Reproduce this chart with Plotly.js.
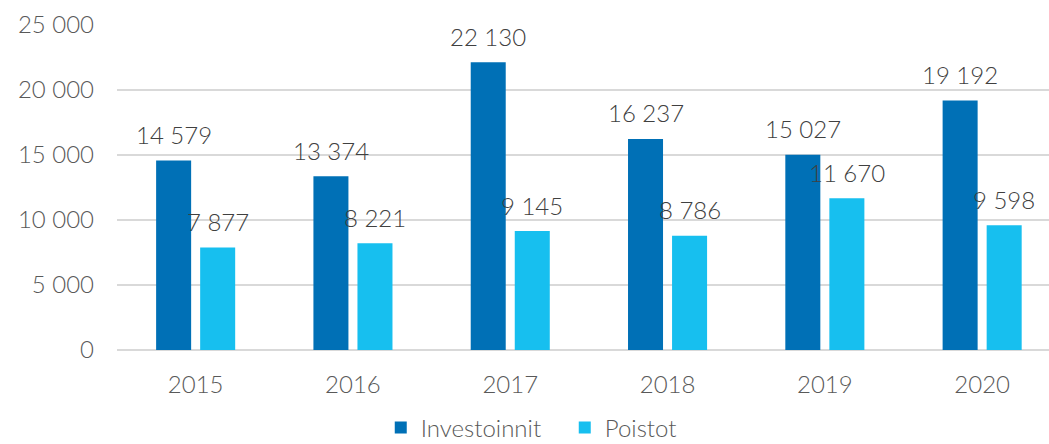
<!DOCTYPE html>
<html>
<head>
<meta charset="utf-8">
<script src="https://cdn.plot.ly/plotly-3.0.1.min.js"></script>
<style>html,body{margin:0;padding:0;background:#fff;}#chart{width:1049px;height:444px;}</style>
</head>
<body>
<div id="chart"></div>
<script>
const years = ['2015', '2016', '2017', '2018', '2019', '2020'];
const investoinnit = [14579, 13374, 22130, 16237, 15027, 19192];
const poistot = [7877, 8221, 9145, 8786, 11670, 9598];
const seriesNames = ['Investoinnit', 'Poistot'];
const colors = ['#0070B6', '#17BFEF'];

function fmt(v) {
  return String(v).replace(/\B(?=(\d{3})+(?!\d))/g, ' ');
}

const FONT = 'Lato, "Open Sans", sans-serif';
const W = 300;

const traces = [investoinnit, poistot].map((vals, i) => ({
  type: 'bar',
  name: seriesNames[i],
  x: years,
  y: vals,
  marker: {color: colors[i], line: {width: 0}},
  hoverinfo: 'skip'
}));

const groupW = 1 - 0.44;
const slot = groupW / 2;
const offsets = [-slot / 2, slot / 2];

const annotations = [];
[investoinnit, poistot].forEach((vals, i) => {
  vals.forEach((v, j) => {
    annotations.push({
      x: j + offsets[i],
      y: v,
      xref: 'x', yref: 'y',
      text: fmt(v),
      showarrow: false,
      yanchor: 'middle',
      yshift: 26,
      font: {family: FONT, size: 24, weight: W, color: '#404040'}
    });
  });
});

const layout = {
  width: 1049,
  height: 444,
  margin: {l: 117, r: 0, t: 25, b: 94, autoexpand: false},
  paper_bgcolor: '#ffffff',
  plot_bgcolor: '#ffffff',
  separators: ', ',
  barmode: 'group',
  bargap: 0.44,
  bargroupgap: 0.205,
  showlegend: true,
  legend: {
    orientation: 'h',
    x: 0.283, xanchor: 'left',
    yref: 'container',
    y: 0.036, yanchor: 'middle',
    entrywidth: 139,
    entrywidthmode: 'pixels',
    font: {family: FONT, size: 24, weight: W, color: '#595959'},
    itemclick: false
  },
  xaxis: {
    type: 'category',
    range: [-0.5, 5.425],
    showgrid: false,
    showline: false,
    zeroline: false,
    ticks: '',
    ticklabelstandoff: 18,
    tickfont: {family: FONT, size: 24, weight: W, color: '#595959'}
  },
  yaxis: {
    range: [0, 25000],
    dtick: 5000,
    tickformat: ',d',
    showgrid: true,
    gridcolor: '#d9d9d9',
    gridwidth: 1.5,
    zeroline: true,
    zerolinecolor: '#d9d9d9',
    zerolinewidth: 1.5,
    showline: false,
    ticks: '',
    ticklabelstandoff: 22,
    tickfont: {family: FONT, size: 24, weight: W, color: '#595959'}
  },
  annotations: annotations
};

Plotly.newPlot('chart', traces, layout, {displayModeBar: false, staticPlot: true});
</script>
</body>
</html>
